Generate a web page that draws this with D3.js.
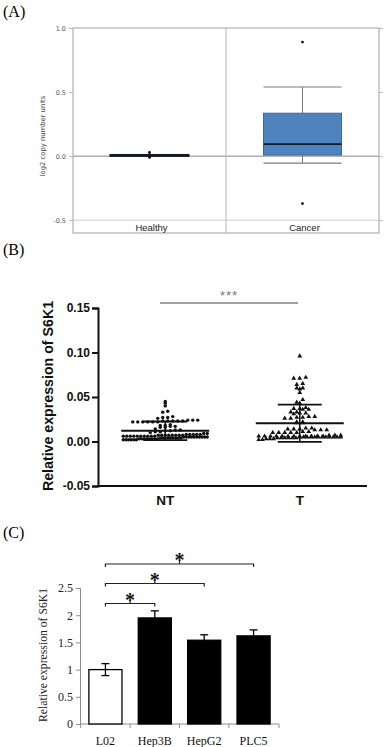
<!DOCTYPE html>
<html>
<head>
<meta charset="utf-8">
<script src="https://cdn.jsdelivr.net/npm/d3@7"></script>
<style>
  body { margin: 0; background: #fff; }
  svg { display: block; }
</style>
</head>
<body>
<svg id="fig" width="385" height="747"></svg>
<script>
/* ---------- data ---------- */
// (A) copy number box plot
var cnGroups = ["Healthy", "Cancer"];
var cnQ1 = [0.002, 0.008];
var cnMedian = [0.006, 0.094];
var cnQ3 = [0.009, 0.335];
var cnWhiskLo = [0.002, -0.055];
var cnWhiskHi = [0.009, 0.54];
var cnOutliers = [[0.03, -0.01], [0.89, -0.37]];
var cnTicks = [-0.5, 0.0, 0.5, 1.0];

// (B) relative expression scatter
var expGroups = ["NT", "T"];
var ntValues = [0.045, 0.043, 0.040, 0.034, 0.033,
  0.028, 0.027, 0.027, 0.026,
  0.024, 0.024, 0.024, 0.023, 0.023, 0.023, 0.023, 0.023, 0.022, 0.022, 0.022, 0.022, 0.022, 0.022,
  0.019, 0.018, 0.018, 0.017, 0.017, 0.016, 0.016,
  0.014, 0.013, 0.013, 0.012, 0.012, 0.011, 0.011, 0.010,
  0.009, 0.009, 0.008, 0.008, 0.008, 0.008, 0.008, 0.007, 0.007, 0.007, 0.007, 0.007, 0.007, 0.007, 0.007,
  0.006, 0.006, 0.006, 0.006, 0.006, 0.006, 0.006, 0.006, 0.006, 0.006,
  0.005, 0.005, 0.005, 0.005, 0.005, 0.005, 0.005, 0.005, 0.005, 0.005,
  0.004, 0.004, 0.004, 0.004, 0.004, 0.004, 0.004, 0.004, 0.004,
  0.003, 0.003, 0.003, 0.003, 0.003, 0.003, 0.003, 0.003,
  0.002, 0.002, 0.002, 0.002, 0.002, 0.002];
var tValues = [0.096,
  0.072, 0.071, 0.071,
  0.065, 0.064,
  0.060, 0.060, 0.059,
  0.055, 0.047, 0.044, 0.043,
  0.038, 0.037, 0.037, 0.036, 0.036,
  0.033, 0.033, 0.032, 0.032, 0.031,
  0.028, 0.028, 0.027, 0.027, 0.026, 0.026,
  0.022, 0.022, 0.021, 0.021,
  0.015, 0.015, 0.014, 0.014, 0.014, 0.013, 0.013, 0.013,
  0.011, 0.011, 0.010, 0.010, 0.010, 0.010, 0.010,
  0.007, 0.007, 0.007,
  0.006, 0.006, 0.006, 0.006, 0.006, 0.006, 0.006, 0.006, 0.006, 0.006, 0.006, 0.006,
  0.005, 0.005, 0.005, 0.005, 0.005, 0.005, 0.005, 0.005, 0.005, 0.005, 0.005, 0.005,
  0.004, 0.004, 0.004, 0.004, 0.004, 0.004,
  0.003, 0.003, 0.003, 0.002, 0.002];
var expMean = [0.012, 0.0205];
var expSD = [0.0105, 0.021];
var expTicks = [-0.05, 0.00, 0.05, 0.10, 0.15];

// (C) cell lines bar chart
var cellLines = ["L02", "Hep3B", "HepG2", "PLC5"];
var cellMean = [1.0, 1.95, 1.54, 1.62];
var cellErr = [0.11, 0.13, 0.10, 0.11];
var cellTicks = [0, 0.5, 1, 1.5, 2, 2.5];
var cellSig = [[0, 1], [0, 2], [0, 3]];

var svg = d3.select("#fig");
svg.append("rect").attr("width", 385).attr("height", 747).attr("fill", "#fff");

// panel letters
var serif = "'Liberation Serif', 'Times New Roman', serif";
var sans = "'Liberation Sans', Arial, sans-serif";
[["(A)", 17], ["(B)", 255], ["(C)", 538]].forEach(function (p) {
    svg.append("text").attr("x", 3).attr("y", p[1])
        .attr("font-family", serif).attr("font-size", 16).text(p[0]);
});

/* ---------- (A) box plot ---------- */
function drawBoxes() {
    var left = 73, right = 379, top = 28, bottom = 233;
    var x = d3.scaleBand().domain(cnGroups).range([left, right]);
    var y = d3.scaleLinear().domain([-0.6, 1.0]).range([bottom, top]);
    var g = svg.append("g");

    // grid lines
    g.append("line").attr("x1", left).attr("x2", right)
        .attr("y1", y(-0.5)).attr("y2", y(-0.5)).attr("stroke", "#cfcfcf");
    g.append("line").attr("x1", left).attr("x2", right)
        .attr("y1", y(0)).attr("y2", y(0)).attr("stroke", "#8a8a8a");
    g.append("line").attr("x1", x("Cancer")).attr("x2", x("Cancer"))
        .attr("y1", top).attr("y2", bottom).attr("stroke", "#b5b5b5");
    g.append("rect").attr("x", left).attr("y", top)
        .attr("width", right - left).attr("height", bottom - top)
        .attr("fill", "none").attr("stroke", "#a0a0a0");

    // ticks both sides
    var ax = g.append("g").attr("transform", "translate(" + left + ",0)")
        .call(d3.axisLeft(y).tickValues(cnTicks).tickSize(4));
    ax.select(".domain").remove();
    ax.selectAll("line").attr("stroke", "#bbb");
    ax.selectAll("text").attr("font-family", "'DejaVu Sans', sans-serif")
        .attr("font-size", 6.5).attr("fill", "#555").text(function (d) { return d.toFixed(1); });
    var axr = g.append("g").attr("transform", "translate(" + right + ",0)")
        .call(d3.axisRight(y).tickValues(cnTicks).tickSize(4).tickFormat(""));
    axr.select(".domain").remove();
    axr.selectAll("line").attr("stroke", "#bbb");

    g.append("text").attr("transform", "translate(45,136) rotate(-90)")
        .attr("text-anchor", "middle").attr("font-family", "'DejaVu Sans', sans-serif")
        .attr("font-size", 6.8).attr("fill", "#444").text("log2 copy number units");

    var bw = x.bandwidth() * 0.51;
    cnGroups.forEach(function (c, i) {
        var cx = x(c) + x.bandwidth() / 2;
        var heavy = i === 0;
        // whiskers
        g.append("line").attr("x1", cx).attr("x2", cx)
            .attr("y1", y(cnWhiskHi[i])).attr("y2", y(cnQ3[i])).attr("stroke", "#7a7a7a");
        g.append("line").attr("x1", cx).attr("x2", cx)
            .attr("y1", y(cnWhiskLo[i])).attr("y2", y(cnQ1[i])).attr("stroke", "#7a7a7a");
        if (!heavy) {
            [cnWhiskHi[i], cnWhiskLo[i]].forEach(function (w) {
                g.append("line").attr("x1", cx - bw / 2).attr("x2", cx + bw / 2)
                    .attr("y1", y(w)).attr("y2", y(w)).attr("stroke", "#7a7a7a").attr("stroke-width", 1.1);
            });
        }
        g.append("rect").attr("x", cx - bw / 2).attr("width", bw)
            .attr("y", y(cnQ3[i])).attr("height", y(cnQ1[i]) - y(cnQ3[i]))
            .attr("fill", heavy ? "#111" : "#4f83bd")
            .attr("stroke", heavy ? "#111" : "#3d6896").attr("stroke-width", heavy ? 2 : 1);
        g.append("line").attr("x1", cx - bw / 2).attr("x2", cx + bw / 2)
            .attr("y1", y(cnMedian[i])).attr("y2", y(cnMedian[i]))
            .attr("stroke", "#0f1c2e").attr("stroke-width", heavy ? 2 : 1.6);
        cnOutliers[i].forEach(function (o) {
            g.append("circle").attr("cx", cx).attr("cy", y(o)).attr("r", 1.4).attr("fill", "#111");
        });
        if (heavy) {
            g.append("line").attr("x1", cx).attr("x2", cx)
                .attr("y1", y(cnOutliers[i][0])).attr("y2", y(cnOutliers[i][1]))
                .attr("stroke", "#111").attr("stroke-width", 1.6);
        }
        g.append("text").attr("x", cx + 2).attr("y", 230.5).attr("text-anchor", "middle")
            .attr("font-family", sans).attr("font-size", 9.5).attr("fill", "#222").text(c);
    });
}

/* ---------- (B) scatter ---------- */
// Prism-style layout: points falling in the same value row are spread
// side by side; crowded rows are squeezed to a maximum width
function rowLayout(values, cx, y, rowH, gap, maxW) {
    var rows = d3.group(values, function (v) { return Math.round((y(0) - y(v)) / rowH); });
    var pts = [];
    rows.forEach(function (vals) {
        vals = vals.slice().sort(d3.ascending);
        var n = vals.length;
        var s = n > 1 ? Math.min(gap, maxW / (n - 1)) : 0;
        // alternate left/right so the row stays centred
        var order = [];
        vals.forEach(function (v, i) { order.push(v); });
        order.forEach(function (v, i) {
            pts.push({ x: cx + (i - (n - 1) / 2) * s, y: y(v), v: v });
        });
    });
    return pts;
}

function drawScatter() {
    var left = 98, right = 367, top = 308, bottom = 486;
    var x = d3.scalePoint().domain(expGroups).range([left, right]).padding(0.5);
    var y = d3.scaleLinear().domain([-0.05, 0.15]).range([bottom, top]);
    var g = svg.append("g");

    var ay = g.append("g").attr("transform", "translate(" + left + ",0)")
        .call(d3.axisLeft(y).tickValues(expTicks).tickSize(6).tickPadding(2)
            .tickFormat(function (d) { return d.toFixed(2); }));
    ay.selectAll("path, line").attr("stroke", "#111").attr("stroke-width", 2);
    ay.selectAll("text").attr("font-family", sans).attr("font-weight", "bold")
        .attr("font-size", 12).attr("fill", "#111");
    g.append("line").attr("x1", left - 1).attr("x2", right)
        .attr("y1", bottom).attr("y2", bottom).attr("stroke", "#111").attr("stroke-width", 2);

    expGroups.forEach(function (c) {
        g.append("text").attr("x", x(c)).attr("y", 505).attr("text-anchor", "middle")
            .attr("font-family", sans).attr("font-weight", "bold").attr("font-size", 13.5)
            .attr("fill", "#111").text(c);
    });
    g.append("text").attr("transform", "translate(53,396) rotate(-90)")
        .attr("text-anchor", "middle").attr("font-family", sans).attr("font-weight", "bold")
        .attr("font-size", 14.2).attr("fill", "#111").text("Relative expression of S6K1");

    // significance
    g.append("line").attr("x1", 160).attr("x2", 298).attr("y1", 303).attr("y2", 303)
        .attr("stroke", "#444").attr("stroke-width", 1.2);
    g.append("text").attr("x", (160 + 298) / 2).attr("y", 300).attr("text-anchor", "middle")
        .attr("font-family", sans).attr("font-size", 13).attr("letter-spacing", 1)
        .attr("fill", "#777").text("***");

    var ntPts = rowLayout(ntValues, x("NT"), y, 3.4, 5, 84);
    g.selectAll(".nt").data(ntPts).enter().append("circle")
        .attr("cx", function (d) { return d.x; }).attr("cy", function (d) { return d.y; })
        .attr("r", 1.7).attr("fill", "#111");
    var tPts = rowLayout(tValues, x("T"), y, 3.4, 6, 82);
    var tri = d3.symbol().type(d3.symbolTriangle).size(10)();
    g.selectAll(".tp").data(tPts).enter().append("path")
        .attr("d", tri).attr("fill", "#111")
        .attr("transform", function (d) { return "translate(" + d.x + "," + d.y + ")"; });

    expGroups.forEach(function (c, i) {
        var cx = x(c);
        g.append("line").attr("x1", cx - 44).attr("x2", cx + 44)
            .attr("y1", y(expMean[i])).attr("y2", y(expMean[i]))
            .attr("stroke", "#111").attr("stroke-width", 2);
        var hi = expMean[i] + expSD[i], lo = expMean[i] - expSD[i];
        g.append("line").attr("x1", cx).attr("x2", cx).attr("y1", y(hi)).attr("y2", y(lo))
            .attr("stroke", "#111").attr("stroke-width", 1.5);
        [hi, lo].forEach(function (v) {
            g.append("line").attr("x1", cx - 22).attr("x2", cx + 22)
                .attr("y1", y(v)).attr("y2", y(v)).attr("stroke", "#111").attr("stroke-width", 1.8);
        });
    });
}

/* ---------- (C) bars ---------- */
function drawBars() {
    var left = 80, right = 279, top = 588, bottom = 724;
    var x = d3.scaleBand().domain(cellLines).range([left, right])
        .paddingInner(0.33).paddingOuter(0.18);
    var y = d3.scaleLinear().domain([0, 2.5]).range([bottom, top]);
    var g = svg.append("g");

    var ay = g.append("g").attr("transform", "translate(" + left + ",0)")
        .call(d3.axisLeft(y).tickValues(cellTicks).tickSize(4).tickPadding(3)
            .tickFormat(function (d) { return String(d); }));
    ay.selectAll("path, line").attr("stroke", "#8c8c8c");
    ay.selectAll("text").attr("font-family", serif).attr("font-size", 12).attr("fill", "#222");

    g.append("line").attr("x1", left).attr("x2", right).attr("y1", bottom).attr("y2", bottom)
        .attr("stroke", "#8c8c8c");
    var step = x.step();
    cellLines.forEach(function (c, i) {
        var bx = x(c) - step * x.paddingInner() / 2;
        g.append("line").attr("x1", bx).attr("x2", bx).attr("y1", bottom).attr("y2", bottom + 4)
            .attr("stroke", "#8c8c8c");
    });
    g.append("line").attr("x1", right).attr("x2", right).attr("y1", bottom).attr("y2", bottom + 4)
        .attr("stroke", "#8c8c8c");

    g.selectAll(".bar").data(cellMean).enter().append("rect")
        .attr("x", function (d, i) { return x(cellLines[i]); })
        .attr("width", x.bandwidth())
        .attr("y", function (d) { return y(d); })
        .attr("height", function (d) { return bottom - y(d); })
        .attr("fill", function (d, i) { return i === 0 ? "#fff" : "#000"; })
        .attr("stroke", "#000").attr("stroke-width", 1.3);

    cellMean.forEach(function (m, i) {
        var cx = x(cellLines[i]) + x.bandwidth() / 2;
        g.append("line").attr("x1", cx).attr("x2", cx)
            .attr("y1", y(m + cellErr[i])).attr("y2", y(m - cellErr[i]))
            .attr("stroke", "#000").attr("stroke-width", 1.3);
        [m + cellErr[i], m - cellErr[i]].forEach(function (v) {
            g.append("line").attr("x1", cx - 4).attr("x2", cx + 4).attr("y1", y(v)).attr("y2", y(v))
                .attr("stroke", "#000").attr("stroke-width", 1.3);
        });
        g.append("text").attr("x", cx).attr("y", 745).attr("text-anchor", "middle")
            .attr("font-family", serif).attr("font-size", 12).attr("fill", "#111").text(cellLines[i]);
    });

    g.append("text").attr("transform", "translate(47,655) rotate(-90)")
        .attr("text-anchor", "middle").attr("font-family", serif).attr("font-size", 11.7)
        .attr("fill", "#222").text("Relative expression of S6K1");

    // significance brackets
    var bracketY = [603.5, 583.5, 564];
    cellSig.forEach(function (pair, k) {
        var x1 = x(cellLines[pair[0]]) + x.bandwidth() / 2;
        var x2 = x(cellLines[pair[1]]) + x.bandwidth() / 2;
        var by = bracketY[k], mid = (x1 + x2) / 2;
        g.append("path")
            .attr("d", "M" + x1 + "," + (by + 3) + "V" + by + "H" + x2 + "V" + (by + 3)
                + "M" + mid + "," + by + "V" + (by - 3))
            .attr("fill", "none").attr("stroke", "#222").attr("stroke-width", 1.2);
        g.append("text").attr("x", mid).attr("y", by + 3).attr("text-anchor", "middle")
            .attr("font-family", serif).attr("font-weight", "bold").attr("font-size", 20)
            .attr("fill", "#111").text("*");
    });
}

drawBoxes();
drawScatter();
drawBars();
</script>
</body>
</html>
